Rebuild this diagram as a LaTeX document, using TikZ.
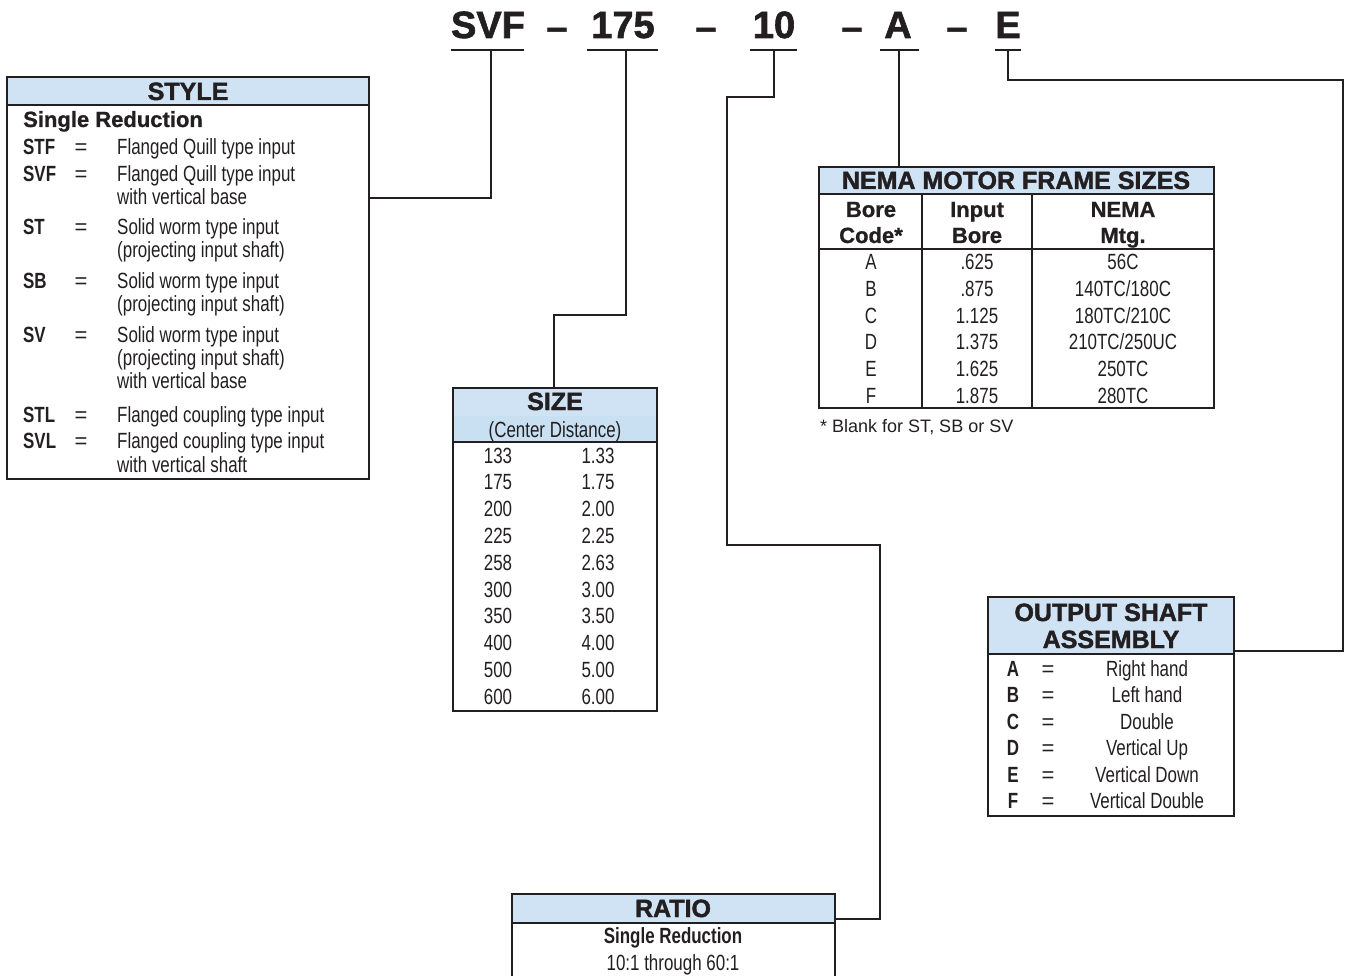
\documentclass[tikz,border=0pt]{standalone}
\usepackage{fontspec}
\setmainfont{Liberation Sans}
\newfontfamily\cf[FakeStretch=0.77]{Liberation Sans}
\newfontfamily\hv[FakeBold=1.6]{Liberation Sans Bold}
\newfontfamily\hvb[FakeBold=0.8]{Liberation Sans Bold}
\definecolor{hdr}{HTML}{CFE3F4}
\definecolor{hdrb}{HTML}{C9DFF2}
\definecolor{ink}{HTML}{231F20}
\tikzset{
  frame/.style={draw=ink, line width=2.4pt, inner sep=0pt, outer sep=0pt, anchor=north west},
  band/.style={fill=hdr, draw=ink, line width=2.4pt, inner sep=0pt, outer sep=0pt, anchor=north west},
  conn/.style={draw=ink, line width=2.4pt},
  uline/.style={draw=ink, line width=2.4pt},
  titl/.style={font=\hv\fontsize{38}{40}\selectfont, text=ink, inner sep=0pt, anchor=base},
  hd/.style={font=\hv\fontsize{25}{28}\selectfont, text=ink, inner sep=0pt, anchor=base},
  sb/.style={font=\hvb\fontsize{22}{26}\selectfont, text=ink, inner sep=0pt, anchor=base},
  lt/.style={font=\cf\fontsize{22}{26}\selectfont, text=ink, inner sep=0pt, anchor=base},
  eq/.style={font=\fontsize{22}{26}\selectfont, text=ink, inner sep=0pt, anchor=base},
  ltl/.style={lt, anchor=base west},
  cd/.style={font=\cf\bfseries\fontsize{22}{26}\selectfont, text=ink, inner sep=0pt, anchor=base west},
  cdc/.style={font=\cf\bfseries\fontsize{22}{26}\selectfont, text=ink, inner sep=0pt, anchor=base},
  fn/.style={font=\fontsize{18}{20}\selectfont, text=ink, inner sep=0pt, anchor=base west},
}
\begin{document}
\begin{tikzpicture}[x=1pt,y=-1pt]
\useasboundingbox (0,0) rectangle (1346,976);

% ---------- title ----------
\node[titl] (tSVF) at (488,38) {SVF};
\node[titl] (d1) at (557,40) {–};
\node[titl] (t175) at (623,38) {175};
\node[titl] (d2) at (706,40) {–};
\node[titl] (t10) at (774,38) {10};
\node[titl] (d3) at (852,40) {–};
\node[titl] (tA) at (898,38) {A};
\node[titl] (d4) at (957,40) {–};
\node[titl] (tE) at (1008,38) {E};

\coordinate (uSVFa) at (451,50); \coordinate (uSVFb) at (524,50);
\coordinate (u175a) at (587,50); \coordinate (u175b) at (658,50);
\coordinate (u10a) at (750,50);  \coordinate (u10b) at (797,50);
\coordinate (uAa) at (880,50);   \coordinate (uAb) at (919,50);
\coordinate (uEa) at (995,50);   \coordinate (uEb) at (1021,50);
\draw[uline] (uSVFa) -- (uSVFb);
\draw[uline] (u175a) -- (u175b);
\draw[uline] (u10a) -- (u10b);
\draw[uline] (uAa) -- (uAb);
\draw[uline] (uEa) -- (uEb);

\coordinate (cSVF) at (491,50);
\coordinate (c175) at (626,50);
\coordinate (c10) at (774,50);
\coordinate (cA) at (899,50);
\coordinate (cE) at (1008,50);

% ---------- STYLE box ----------
\node[band, minimum width=362pt, minimum height=28pt] (styleh) at (7,77) {};
\node[frame, minimum width=362pt, minimum height=402pt] (style) at (7,77) {};
\node[hd] (styleT) at (188,100) {STYLE};
\node[sb, anchor=base west] (styleSR) at (23,127) {Single Reduction};
\node[cd] (k1) at (23,155) {STF};  \node[eq] (e1) at (81,155) {=}; \node[ltl] (v1) at (117,155) {Flanged Quill type input};
\node[cd] (k2) at (23,182) {SVF};  \node[eq] (e2) at (81,182) {=}; \node[ltl] (v2) at (117,182) {Flanged Quill type input};
\node[ltl] (v2b) at (117,205) {with vertical base};
\node[cd] (k3) at (23,235) {ST};   \node[eq] (e3) at (81,235) {=}; \node[ltl] (v3) at (117,235) {Solid worm type input};
\node[ltl] (v3b) at (117,258) {(projecting input shaft)};
\node[cd] (k4) at (23,288) {SB};   \node[eq] (e4) at (81,288) {=}; \node[ltl] (v4) at (117,288) {Solid worm type input};
\node[ltl] (v4b) at (117,312) {(projecting input shaft)};
\node[cd] (k5) at (23,342) {SV};   \node[eq] (e5) at (81,342) {=}; \node[ltl] (v5) at (117,342) {Solid worm type input};
\node[ltl] (v5b) at (117,365) {(projecting input shaft)};
\node[ltl] (v5c) at (117,388) {with vertical base};
\node[cd] (k6) at (23,422) {STL};  \node[eq] (e6) at (81,422) {=}; \node[ltl] (v6) at (117,422) {Flanged coupling type input};
\node[cd] (k7) at (23,448) {SVL};  \node[eq] (e7) at (81,448) {=}; \node[ltl] (v7) at (117,448) {Flanged coupling type input};
\node[ltl] (v7b) at (117,472) {with vertical shaft};
\coordinate (styleIn) at (369,198);

% ---------- SIZE box ----------
\fill[hdr] (453,388) rectangle (657,416);
\fill[hdrb] (453,416) rectangle (657,442);
\draw[conn] (453,442) -- (657,442);
\node[frame, minimum width=204pt, minimum height=323pt] (size) at (453,388) {};
\node[hd] (sizeT) at (555,410) {SIZE};
\node[lt] (sizeS) at (555,437) {(Center Distance)};
\foreach \a/\b [count=\i from 0] in {133/1.33,175/1.75,200/2.00,225/2.25,258/2.63,300/3.00,350/3.50,400/4.00,500/5.00,600/6.00}{
  \node[lt] (sa\i) at (498,463+26.8*\i) {\a};
  \node[lt] (sb\i) at (598,463+26.8*\i) {\b};
}
\coordinate (sizeIn) at (554,388);

% ---------- NEMA box ----------
\node[band, minimum width=395pt, minimum height=27pt] (nemah) at (819,167) {};
\node[frame, minimum width=395pt, minimum height=241pt] (nema) at (819,167) {};
\draw[conn] (819,249) -- (1214,249);
\draw[conn] (922,194) -- (922,408);
\draw[conn] (1032,194) -- (1032,408);
\node[hd] (nemaT) at (1016,189) {NEMA MOTOR FRAME SIZES};
\node[sb] (h1a) at (871,217) {Bore};  \node[sb] (h1b) at (871,243) {Code*};
\node[sb] (h2a) at (977,217) {Input}; \node[sb] (h2b) at (977,243) {Bore};
\node[sb] (h3a) at (1123,217) {NEMA}; \node[sb] (h3b) at (1123,243) {Mtg.};
\foreach \a/\b/\c [count=\i from 0] in {A/.625/56C,B/.875/140TC\slash 180C,C/1.125/180TC\slash 210C,D/1.375/210TC\slash 250UC,E/1.625/250TC,F/1.875/280TC}{
  \node[lt] (na\i) at (871,270+26.6*\i) {\a};
  \node[lt] (nb\i) at (977,270+26.6*\i) {\b};
  \node[lt] (nc\i) at (1123,270+26.6*\i) {\c};
}
\node[fn] (nemaF) at (820,432) {* Blank for ST, SB or SV};
\coordinate (nemaIn) at (899,167);

% ---------- OUTPUT SHAFT box ----------
\node[band, minimum width=246pt, minimum height=57pt] (outh) at (988,597) {};
\node[frame, minimum width=246pt, minimum height=219pt] (out) at (988,597) {};
\node[hd] (outT1) at (1111,621) {OUTPUT SHAFT};
\node[hd] (outT2) at (1111,648) {ASSEMBLY};
\foreach \a/\b [count=\i from 0] in {A/Right hand,B/Left hand,C/Double,D/Vertical Up,E/Vertical Down,F/Vertical Double}{
  \node[cdc] (ok\i) at (1013,676+26.5*\i) {\a};
  \node[eq] (oe\i) at (1048,676+26.5*\i) {=};
  \node[lt] (ov\i) at (1147,676+26.5*\i) {\b};
}
\coordinate (outIn) at (1234,651);

% ---------- RATIO box ----------
\node[band, minimum width=323pt, minimum height=29pt] (ratioh) at (512,894) {};
\node[frame, minimum width=323pt, minimum height=100pt] (ratio) at (512,894) {};
\node[hd] (ratioT) at (673,917) {RATIO};
\node[cdc] (ratioS) at (673,943) {Single Reduction};
\node[lt] (ratioV) at (673,970) {10:1 through 60:1};
\coordinate (ratioIn) at (835,919);

% ---------- connectors ----------
\draw[conn] (cSVF) |- (styleIn);
\coordinate (b175a) at (626,315); \coordinate (b175b) at (554,315);
\draw[conn] (c175) -- (b175a) -- (b175b) -- (sizeIn);
\coordinate (b10a) at (774,97); \coordinate (b10b) at (727,97);
\coordinate (b10c) at (727,545); \coordinate (b10d) at (880,545);
\coordinate (b10e) at (880,919);
\draw[conn] (c10) -- (b10a) -- (b10b) -- (b10c) -- (b10d) -- (b10e) -- (ratioIn);
\draw[conn] (cA) -- (nemaIn);
\coordinate (bEa) at (1008,80); \coordinate (bEb) at (1343,80); \coordinate (bEc) at (1343,651);
\draw[conn] (cE) -- (bEa) -- (bEb) -- (bEc) -- (outIn);
\end{tikzpicture}
\end{document}
